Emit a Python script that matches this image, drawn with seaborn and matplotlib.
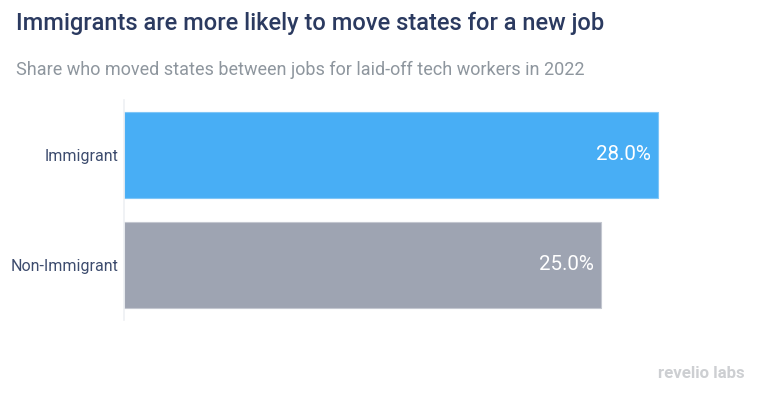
import matplotlib
matplotlib.use("Agg")
import matplotlib.pyplot as plt
import seaborn as sns
import pandas as pd

categories = ["Immigrant", "Non-Immigrant"]
values = [28.0, 25.0]
bar_colors = ["#48aef5", "#9ea4b2"]
edge_colors = ["#7fc6f7", "#c3c7d0"]
title = "Immigrants are more likely to move states for a new job"
subtitle = "Share who moved states between jobs for laid-off tech workers in 2022"

sns.set_theme(style="white")
plt.rcParams["font.family"] = ["Roboto", "DejaVu Sans"]

df = pd.DataFrame({"group": categories, "share": values})

fig = plt.figure(figsize=(7.68, 4.0), dpi=100)
ax = fig.add_axes([124/768, 80/400, (736-124)/768, 220/400])
sns.barplot(data=df, x="share", y="group", hue="group", palette=bar_colors,
            saturation=1, width=0.79, legend=False, ax=ax, linewidth=0.8)
for p, c in zip(ax.patches, edge_colors):
    p.set_edgecolor(c)
ax.set_xlim(0, 32.1)
ax.set_ylim(1.5, -0.5)
ax.set_xlabel("")
ax.set_ylabel("")
ax.set_xticks([])
for s in ["top", "right", "bottom"]:
    ax.spines[s].set_visible(False)
ax.spines["left"].set_color("#eef0f3")
ax.spines["left"].set_linewidth(1.2)
ax.tick_params(axis="y", length=0, pad=3.6, labelsize=11.5, labelcolor="#3d4c6e")

for i, v in enumerate(values):
    ax.annotate(f"{v:.1f}%", xy=(v, i), xytext=(-5, 0), textcoords="offset points",
                ha="right", va="center", color="white", fontsize=14.8)

fig.text(16/768, 1 - 23/400, title, ha="left", va="center", fontsize=17,
         fontweight="medium", color="#2b3a60")
fig.text(16/768, 1 - 70/400, subtitle, ha="left", va="center", fontsize=12.95,
         color="#8e969e")
fig.text(745/768, 1 - 374/400, "revelio labs", ha="right", va="center", fontsize=12.2,
         fontweight="bold", color="#cdcfd2")

fig.savefig("out.png", dpi=100)
